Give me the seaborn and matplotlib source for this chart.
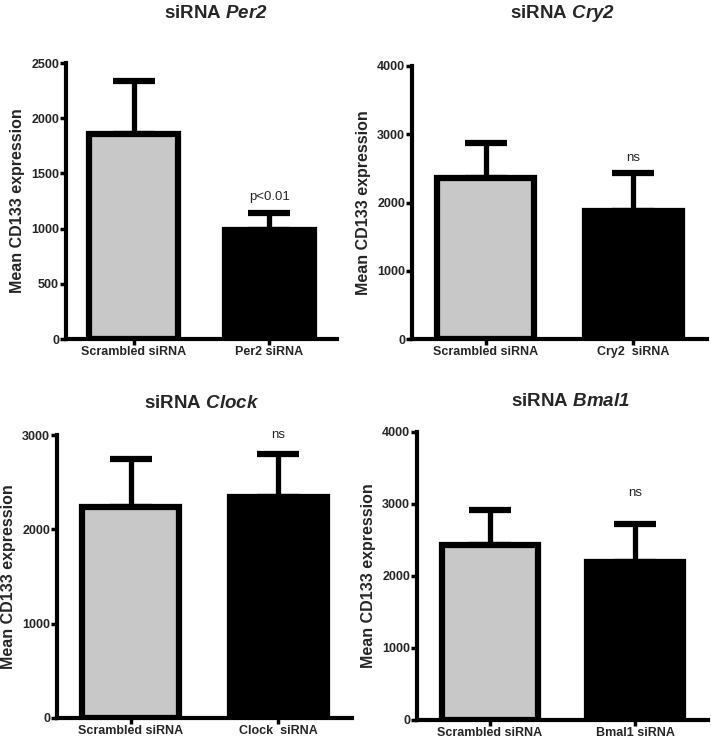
import matplotlib
matplotlib.use("Agg")
import matplotlib.pyplot as plt
import seaborn as sns

# --- data ---
genes = ["Per2", "Cry2", "Clock", "Bmal1"]
x_labels = [
    ["Scrambled siRNA", "Per2 siRNA"],
    ["Scrambled siRNA", "Cry2  siRNA"],
    ["Scrambled siRNA", "Clock  siRNA"],
    ["Scrambled siRNA", "Bmal1 siRNA"],
]
means = [
    [1860, 990],
    [2360, 1880],
    [2240, 2345],
    [2430, 2195],
]
upper_err = [
    [480, 150],
    [510, 550],
    [510, 455],
    [490, 525],
]
notes = ["p<0.01", "ns", "ns", "ns"]
note_y = [1290, 2650, 3000, 3150]
y_max = [2500, 4000, 3000, 4000]
y_step = [500, 1000, 1000, 1000]

sns.set_style("ticks")
plt.rcParams["font.family"] = ["Liberation Sans", "DejaVu Sans"]
# gene names in the titles are bold italic (letters and digits alike)
plt.rcParams["mathtext.fontset"] = "custom"
plt.rcParams["mathtext.rm"] = "Liberation Sans:bold:italic"
plt.rcParams["mathtext.it"] = "Liberation Sans:bold:italic"

W, H = 711, 743
fig = plt.figure(figsize=(W / 100, H / 100), dpi=100)

# axes boxes in pixels: left, top, right, bottom
boxes = [
    (66, 63, 337, 339),
    (412, 66, 707, 339),
    (57, 435, 352, 718),
    (417, 432, 708, 720),
]
title_pos = [(216, 14), (562, 14), (202, 403), (570, 402)]
colors = ["#c8c8c8", "#000000"]

for i, gene in enumerate(genes):
    l, t, r, b = boxes[i]
    ax = fig.add_axes([l / W, 1 - b / H, (r - l) / W, (b - t) / H])

    sns.barplot(x=x_labels[i], y=means[i], hue=x_labels[i], palette=colors,
                legend=False, width=0.66, edgecolor="black", linewidth=4.5,
                ax=ax, zorder=2)
    ax.errorbar([0, 1], means[i], yerr=[[0, 0], upper_err[i]], fmt="none",
                ecolor="black", elinewidth=3.8, capsize=15, capthick=4.5,
                zorder=1)

    ax.text(1, note_y[i], notes[i], ha="center", va="center", fontsize=9.5,
            clip_on=False)

    ax.set_xlim(-0.5, 1.5)
    ax.set_ylim(0, y_max[i])
    ax.set_yticks(range(0, y_max[i] + 1, y_step[i]))
    ax.set_ylabel("Mean CD133 expression", fontsize=11.5, fontweight="bold",
                  labelpad=4)
    ax.set_xlabel("")

    for lab in ax.get_xticklabels() + ax.get_yticklabels():
        lab.set_fontweight("bold")
        lab.set_fontsize(9)
    ax.tick_params(axis="both", width=2.5, length=4, pad=1, color="black")

    sns.despine(ax=ax)
    for side in ["left", "bottom"]:
        ax.spines[side].set_linewidth(3)
        ax.spines[side].set_color("black")
        ax.spines[side].set_zorder(3)

    tx, ty = title_pos[i]
    fig.text(tx / W, 1 - ty / H, r"siRNA $\mathrm{" + gene + "}$",
             ha="center", va="center", fontsize=13.5, fontweight="bold")

fig.savefig("out.png", dpi=100)
